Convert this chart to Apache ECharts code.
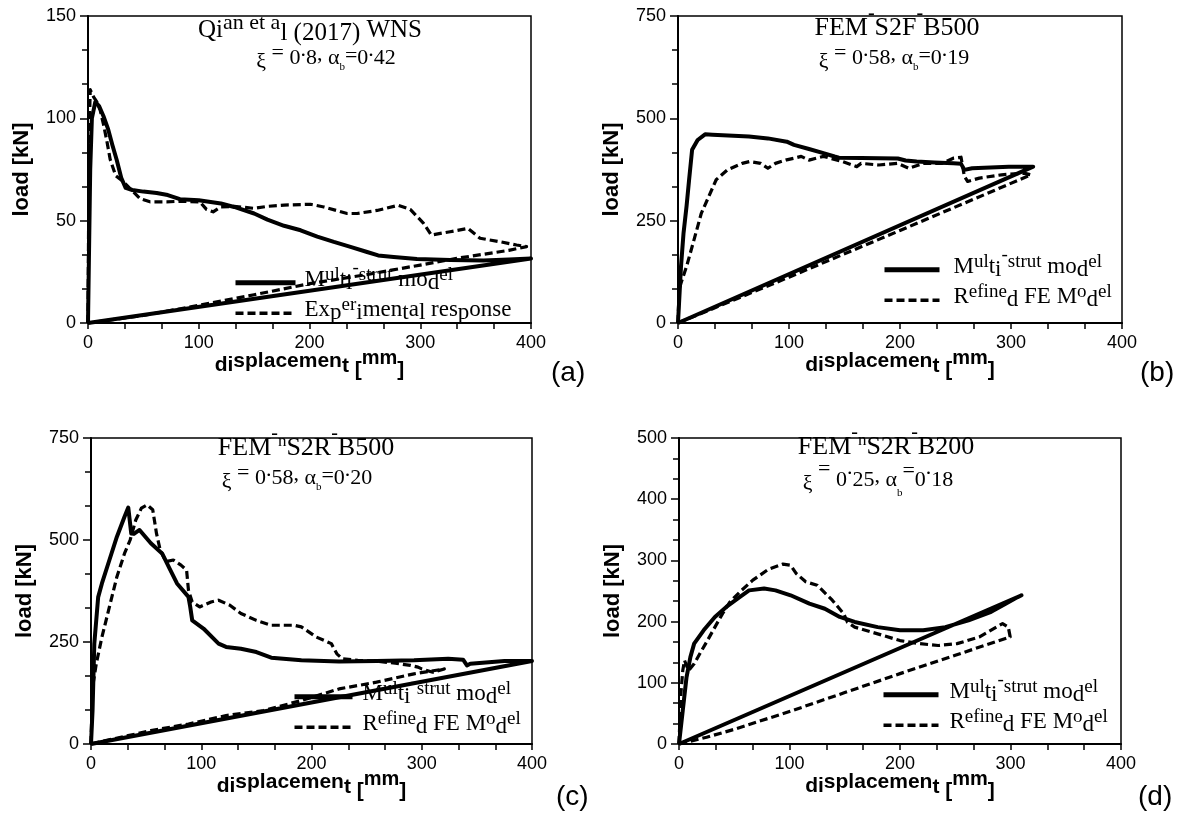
<!DOCTYPE html>
<html>
<head>
<meta charset="utf-8">
<script src="https://cdn.jsdelivr.net/npm/echarts@6.0.0/dist/echarts.min.js"></script>
<style>
html,body{margin:0;padding:0;background:#ffffff;}
#chart{width:1183px;height:813px;}
</style>
</head>
<body>
<div id="chart"></div>
<script>
// ---------------- DATA ----------------
// [displacement mm, load kN]
const aMultiStrut = [[0,0],[2,75],[3.5,100],[6.6,108],[10,106],[14,101],[18,95],[22,87],[26,79.5],[30,71],[34,66],[40,65],[50,64.2],[62,63.5],[72,62.5],[83,60.5],[100,60],[120,58.4],[132,56.7],[150,53.5],[162,50.5],[177,47.5],[192,45.3],[207,42.2],[222,39.6],[237,37.2],[252,34.7],[262,33],[276,32.3],[297,31.3],[327,30.8],[357,30.5],[380,31],[400,31.5],[0,0]];
const aExperimental = [[0,0],[1,90],[2,114],[5,110.5],[8,108],[11,104],[14,97],[17,89],[20,80],[25,72],[32,69],[38,65.7],[47,60.8],[56,59.2],[71,59.2],[83,59.5],[101,59.2],[107,55.5],[113,54.3],[120,56.7],[132,57],[150,56],[162,57],[177,57.6],[201,58],[213,56.7],[234,53.5],[243,53.5],[261,55],[280,57.5],[291,55.5],[303,48.7],[310,43],[327,44.6],[343,46.2],[354,41.4],[372,39.7],[387,38.1],[396,37.3],[380,35.5],[333,31.6],[300,28.3],[250,23.5],[200,19.2],[150,13.8],[100,8.6],[50,3.7],[0,0]];
const bMultiStrut = [[0,0],[2.7,138],[5,220],[7.7,285],[10,350],[12.7,423],[17.7,447],[24.4,461],[31,460],[64,455.5],[81,451],[98,443],[104.5,435],[118,425],[131,415],[141,406.7],[145,404],[165,403],[198,402],[205,397],[215,394.5],[231,392],[248,390],[255,388.8],[258,374],[265,378],[298,382],[320,382],[0,0]];
const bRefinedFE = [[0,0],[1,81],[2.7,97.6],[7.7,138],[14.4,203],[21,268],[27.7,309],[34.4,350],[44.4,374],[57.8,390],[64.4,394.5],[74.5,390],[81,378],[87.8,390],[97.8,398.6],[104.5,402.6],[111,407],[118,398],[131,407],[148,394.5],[161,382],[165,390],[181,386],[198,390],[208,378],[221,390],[238,390],[248,402.6],[255,405],[258,358],[261,345.7],[271.5,354],[291.5,362],[311.5,366],[318,362],[200,226],[100,112],[0,0]];
const cMultiStrut = [[0,0],[1.4,82],[3,246],[6.5,360],[9.9,393.5],[16.7,451],[23.5,508],[30.4,557],[33.8,579.5],[35.5,578],[36.5,516],[38.9,515],[44,524.6],[54.3,492],[64.5,467],[71.3,430],[78,393.5],[88.4,360.7],[90,336],[91.8,303],[102,283],[115.7,246],[122.5,238],[136,233.6],[150,225.4],[163.5,211.5],[190.8,205],[225,202.5],[259,203.3],[293,205],[324,209],[337.5,206.6],[341,192.6],[344,196.7],[375,203.3],[400,203.3],[0,0]];
const cRefinedFE = [[0,0],[1.4,139],[4.8,197],[9.9,262],[16.7,336],[23.5,410],[30.4,467],[35.5,500],[40.6,549],[45.7,578],[50.9,586],[56,574],[59.4,516],[62.8,475],[68,447],[74.7,451],[81.6,438.5],[86.7,426],[88.4,377],[91.8,348],[98.6,336],[108.9,348],[115.7,352.5],[126,340],[136,320],[150,303],[163.5,291],[184,291],[190.8,287],[204.4,262],[218,246],[223,221],[228,209],[242,205],[259,203],[276,198],[289.8,192.6],[296.6,188.5],[300,184],[310,176],[320.5,184],[293,172],[259,151.6],[225,135],[190.8,106.6],[156.7,82],[122.5,69.7],[88.4,49],[54.3,32.8],[20,12.3],[0,0]];
const dMultiStrut = [[0,0],[3.4,54.6],[6.8,109],[10.3,142],[13.7,164],[22.3,185.8],[32.5,207.6],[42.8,224],[53,237.7],[63.4,251],[77,254],[87.3,251],[101,243],[118,229.5],[132,221],[145.5,207.6],[159,199.4],[179.8,191],[200,185.8],[221,185.8],[241,191],[262,202],[282.5,216],[296,229.5],[306.5,240],[310,243],[0,0]];
const dRefinedFE = [[0,0],[1.7,82],[3.4,120],[5,136.6],[8.6,120],[13.7,131],[18.8,147.5],[25.7,169],[32.5,191],[39.4,213],[46,232],[56.5,251],[66.8,267.7],[80.5,285],[94,294],[101,292],[106,278.7],[114.7,265],[125,259.5],[138.7,235],[149,213],[152.4,199],[159,191],[179.8,180],[200,169],[217.5,164],[234.6,161],[251.7,164],[272,175],[292.8,196.7],[298,191],[299.7,175],[250,145],[200,115],[150,84],[100,53],[50,24],[25,11],[0,0]];

// axis ranges: [min, max, interval]
const xRange = [0, 400, 100];
const yRanges = [[0,150,50],[0,750,250],[0,750,250],[0,500,100]];
const panelTags = ['(a)','(b)','(c)','(d)'];
const MS = 'Multi-strut model', EXP = 'Experimental response', FE = 'Refined FE Model';

// text fragments (text, baseline style) - the reference has shifted glyph groups
const titleLine1 = [
  [['Qi','n'],['an et a','u'],['l (2017)','d'],[' WNS','n']],
  [['FEM','n'],['-','h'],['S2F','n'],['-','h'],['B500','n']],
  [['FEM','n'],['-','h'],['n','s'],['S2R','n'],['-','h'],['B500','n']],
  [['FEM','n'],['-','h'],['n','s'],['S2R','n'],['-','h'],['B200','n']]
];
function line2(v1, v2){
  return [['ξ','x'],[' ','n'],['=','e'],[' 0','n'],['.','p'],[v1,'n'],[',','c'],[' α','n'],['b','b'],['=','e2'],['0','n'],['.','p'],[v2,'n']];
}
const titleLine2 = [line2('8','42'), line2('58','19'), line2('58','20'), line2('25','18')];
const legendTokens = {};
legendTokens[MS] = [['M','f'],['ul','u'],['t','n'],['i','d'],['-','h'],['strut','u'],[' mo','n'],['d','d'],['el','u']];
legendTokens[EXP] = [['Ex','f'],['p','d'],['er','u'],['i','d'],['men','n'],['t','d'],['a','n'],['l','d'],[' res','n'],['p','d'],['onse','n']];
legendTokens[FE] = [['R','f'],['efi','u'],['ne','u'],['d','d'],[' FE M','n'],['o','u'],['d','d'],['el','u']];
const xNameTokens = [['di','n'],['splacemen','u'],['t','t'],[' ','n'],['[','d'],['mm','m'],[']','d']];
const yName = 'load [kN]';

// ---------------- LAYOUT / STYLE ----------------
const SANS = "'Liberation Sans', Arial, Helvetica, sans-serif";
const SERIF = "'Liberation Serif', 'Times New Roman', Times, serif";
const GRIDS = [
  {left:88, top:16, width:443, height:307},
  {left:678, top:16, width:444, height:307},
  {left:91, top:438, width:441, height:306},
  {left:679, top:438, width:442, height:306}
];
const L1POS = [[310,14.2,25],[897,12.3,26],[306,432.3,26],[886,431.3,26]];
const L2POS = [[326,41.9],[894,41.9],[297,461.9],[878,464.2]];
const L2SHIFT = [[5,2,7.5,9],[5,2,7.5,9],[5,2,7.5,9],[11,8.5,12,13]]; // e, e2, p, b
const TAGPOS = [[551,359],[1140,359],[556,783],[1138,783]];
const LEGPOS = [[233,259,60,4,[MS,EXP]],[882,246,55,9,[MS,FE]],[292,673,58,5,[MS,FE]],[881,671,55,6,[MS,FE]]];

function mkRich(family, weight, B, defs) {
  const r = {};
  Object.keys(defs).forEach(function(k){
    const d = defs[k];
    const h = 2 * (B - d[1]);
    r[k] = {fontFamily: family, fontWeight: weight, fontSize: d[0], lineHeight: h, height: h, verticalAlign: 'top', color: '#000'};
    if (d[2]) r[k].padding = [0, 0, 0, d[2]];
  });
  return r;
}
function rt(tokens){ return tokens.map(function(t){ return '{' + t[1] + '|' + t[0] + '}'; }).join(''); }

const titles = [];
for (let i = 0; i < 4; i++) {
  const s = L1POS[i][2];
  titles.push({
    text: rt(titleLine1[i]), left: L1POS[i][0], top: L1POS[i][1], padding: 0,
    textAlign: 'center', textVerticalAlign: 'top',
    textStyle: {fontFamily: SERIF, fontWeight: 'normal', fontSize: s, color: '#000',
      rich: mkRich(SERIF, 'normal', 16, {n:[s,0], u:[s-3,6.9], d:[s,-3.4], h:[20,14.6], s:[17,6.3]})}
  });
  const sh = L2SHIFT[i];
  titles.push({
    text: rt(titleLine2[i]), left: L2POS[i][0], top: L2POS[i][1], padding: 0,
    textAlign: 'center', textVerticalAlign: 'top',
    textStyle: {fontFamily: SERIF, fontWeight: 'normal', fontSize: 22, color: '#000',
      rich: mkRich(SERIF, 'normal', 16, {n:[22,0], x:[22,-4], e:[22,sh[0]], e2:[22,sh[1]], p:[22,sh[2]], c:[22,4], b:[11,-sh[3]]})}
  });
  titles.push({
    text: panelTags[i], left: TAGPOS[i][0], top: TAGPOS[i][1], padding: 0,
    textAlign: 'left', textVerticalAlign: 'top',
    textStyle: {fontFamily: SANS, fontWeight: 'normal', fontSize: 28, lineHeight: 28, color: '#000'}
  });
}

const legends = LEGPOS.map(function(p){
  return {
    left: p[0], top: p[1], orient: 'vertical', padding: 0, itemGap: -4,
    itemWidth: p[2], itemHeight: 14, selectedMode: false,
    data: p[4].map(function(n){ return {name: n, lineStyle: {width: n === MS ? 5 : 3.5}}; }),
    formatter: function(n){ return rt(legendTokens[n]); },
    itemStyle: {opacity: 0},
    textStyle: {fontFamily: SERIF, fontSize: 23, color: '#000',
      rich: mkRich(SERIF, 'normal', 14, {f:[23,0,p[3]], n:[23,0], u:[19,5], d:[23,-3], h:[19,11.3]})}
  };
});

const xRich = mkRich(SANS, 'bold', 12, {n:[21,0], u:[21,3.7], t:[21,-1.5], d:[21,-5], m:[20,6.5]});
const xAxes = [], yAxes = [];
for (let i = 0; i < 4; i++) {
  xAxes.push({
    type: 'value', gridIndex: i, min: xRange[0], max: xRange[1], interval: xRange[2],
    axisLine: {show: true, onZero: false, lineStyle: {color: '#000', width: 2}},
    axisTick: {show: true, inside: false, length: 6, lineStyle: {color: '#000', width: 1.5}},
    minorTick: {show: true, splitNumber: 3, length: 6, lineStyle: {color: '#000', width: 1.5}},
    splitLine: {show: false}, minorSplitLine: {show: false},
    axisLabel: {color: '#000', fontFamily: SANS, fontSize: 18, margin: 11, showMinLabel: true, showMaxLabel: true},
    name: rt(xNameTokens), nameLocation: 'middle', nameGap: 30, nameMoveOverlap: false,
    nameTextStyle: {fontFamily: SANS, fontWeight: 'bold', fontSize: 21, color: '#000', rich: xRich}
  });
  yAxes.push({
    type: 'value', gridIndex: i, min: yRanges[i][0], max: yRanges[i][1], interval: yRanges[i][2],
    axisLine: {show: true, onZero: false, lineStyle: {color: '#000', width: 2}},
    axisTick: {show: true, inside: false, length: 8, lineStyle: {color: '#000', width: 1.5}},
    minorTick: {show: true, splitNumber: 3, length: 6, lineStyle: {color: '#000', width: 1.5}},
    splitLine: {show: false}, minorSplitLine: {show: false},
    axisLabel: {color: '#000', fontFamily: SANS, fontSize: 18, margin: 12, showMinLabel: true, showMaxLabel: true},
    name: yName, nameLocation: 'middle', nameGap: 55, nameRotate: 90, nameMoveOverlap: false,
    nameTextStyle: {fontFamily: SANS, fontWeight: 'bold', fontSize: 22, lineHeight: 22, color: '#000'}
  });
}

function mkSeries(i, name, data, dashed) {
  return {
    type: 'line', name: name, xAxisIndex: i, yAxisIndex: i, data: data,
    symbol: 'none', showSymbol: false, smooth: false, clip: true,
    lineStyle: {color: '#000', width: dashed ? 3.2 : 4, type: dashed ? [8, 4] : 'solid', join: 'round'},
    itemStyle: {color: '#000'}, z: dashed ? 2 : 3
  };
}
const series = [
  mkSeries(0, MS, aMultiStrut, false), mkSeries(0, EXP, aExperimental, true),
  mkSeries(1, MS, bMultiStrut, false), mkSeries(1, FE, bRefinedFE, true),
  mkSeries(2, MS, cMultiStrut, false), mkSeries(2, FE, cRefinedFE, true),
  mkSeries(3, MS, dMultiStrut, false), mkSeries(3, FE, dRefinedFE, true)
];

const chart = echarts.init(document.getElementById('chart'), null, {renderer: 'canvas'});
chart.setOption({
  animation: false,
  backgroundColor: '#ffffff',
  title: titles,
  legend: legends,
  grid: GRIDS.map(function(g){ return Object.assign({show: true, borderColor: '#000', borderWidth: 1.5, backgroundColor: 'transparent', containLabel: false, outerBoundsMode: 'none'}, g); }),
  xAxis: xAxes,
  yAxis: yAxes,
  series: series
});
</script>
</body>
</html>
